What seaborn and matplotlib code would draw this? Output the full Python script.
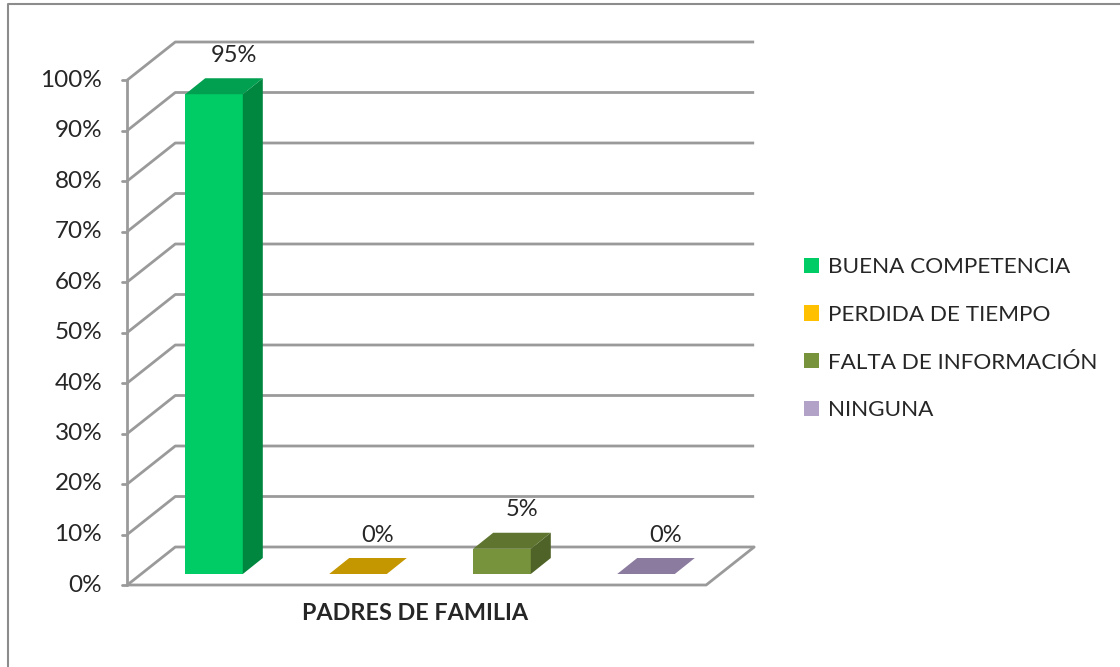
import numpy as np
import pandas as pd
import matplotlib
matplotlib.use('Agg')
import matplotlib.pyplot as plt
import seaborn as sns
from matplotlib.patches import Polygon
from matplotlib.lines import Line2D

grupo = ['PADRES DE FAMILIA'] * 4
respuestas = ['BUENA COMPETENCIA', 'PERDIDA DE TIEMPO', 'FALTA DE INFORMACIÓN', 'NINGUNA']
porcentajes = [95, 0, 5, 0]
ticks = [0, 10, 20, 30, 40, 50, 60, 70, 80, 90, 100]
colores = ['#00CC66', '#FFC000', '#77933C', '#B2A2C7']
lados = ['#00873F', '#B08600', '#4F6228', '#76688A']
techos = ['#00A050', '#C49600', '#5F752F', '#8B7B9E']

df = pd.DataFrame({'grupo': grupo, 'respuesta': respuestas, 'valor': porcentajes})

sns.set_theme(style='white')
plt.rcParams['font.family'] = ['Lato', 'DejaVu Sans']

fig = plt.figure(figsize=(11.2, 6.67), dpi=100)
ax = fig.add_axes([0, 0, 1, 1])

ax = sns.barplot(data=df, x='grupo', y='valor', hue='respuesta', palette=colores,
                 gap=0.6, ax=ax, saturation=1, linewidth=0, zorder=2)

# axes fill the figure, 720 px per x unit and 5.05 px per percent
px_x, px_y = 720.0, 5.05
ax.set_xlim(-430 / px_x, (1120 - 430) / px_x)
ax.set_ylim((574 - 667) / px_y, 574 / px_y)
ax.axis('off')

# 3D look: bar plane sits in the middle, front and back walls offset
fdx, fdy = -14 / px_x, -11 / px_y
bdx, bdy = 34 / px_x, 27 / px_y
ddx, ddy = 20 / px_x, 16 / px_y
L, R = -0.401, 0.403
gris = '#9A9A9A'

for t in ticks:
    ax.plot([L + fdx, L + bdx, R + bdx], [t + fdy, t + bdy, t + bdy],
            color=gris, lw=2.0, zorder=0, solid_capstyle='butt')
    ax.plot([L + fdx - 5 / px_x, L + fdx], [t + fdy, t + fdy], color=gris, lw=2.0, zorder=0)
    ax.text(L + fdx - 25 / px_x, t + fdy, f'{t}%', ha='right', va='center', fontsize=17.5)

ax.plot([L + fdx, L + fdx], [fdy, 100 + fdy], color=gris, lw=2.0, zorder=0)
ax.plot([L + fdx, R + fdx, R + bdx], [fdy, fdy, bdy], color=gris, lw=2.0, zorder=0)

for i, p in enumerate(ax.patches[:len(porcentajes)]):
    x, w, h = p.get_x(), p.get_width(), p.get_height()
    ax.add_patch(Polygon([(x + w, 0), (x + w, h), (x + w + ddx, h + ddy), (x + w + ddx, ddy)],
                         closed=True, color=lados[i], lw=0, zorder=2))
    ax.add_patch(Polygon([(x, h), (x + w, h), (x + w + ddx, h + ddy), (x + ddx, h + ddy)],
                         closed=True, color=techos[i], lw=0, zorder=2))
    ax.annotate(f'{porcentajes[i]:.0f}%', (x + w / 2 + ddx, h + ddy), xytext=(0, 16.5),
                textcoords='offset points', ha='center', va='center', fontsize=17)

ax.text(-15 / px_x, fdy - 29 / px_y, grupo[0], ha='center', va='center',
        fontsize=16.8, fontweight='bold')

sns.move_legend(ax, 'upper left', bbox_to_anchor=(784 / 1120, 1 - 237 / 667), title=None,
                frameon=False, fontsize=16.2, handlelength=0.66, handleheight=0.66,
                labelspacing=1.23, handletextpad=0.38)

# chart border
fig.add_artist(Line2D([8 / 1120, 8 / 1120, 1], [0, 1 - 4 / 667, 1 - 4 / 667],
                      color='#8C8C8C', lw=1.5, transform=fig.transFigure))

fig.savefig('out.png', dpi=100)
